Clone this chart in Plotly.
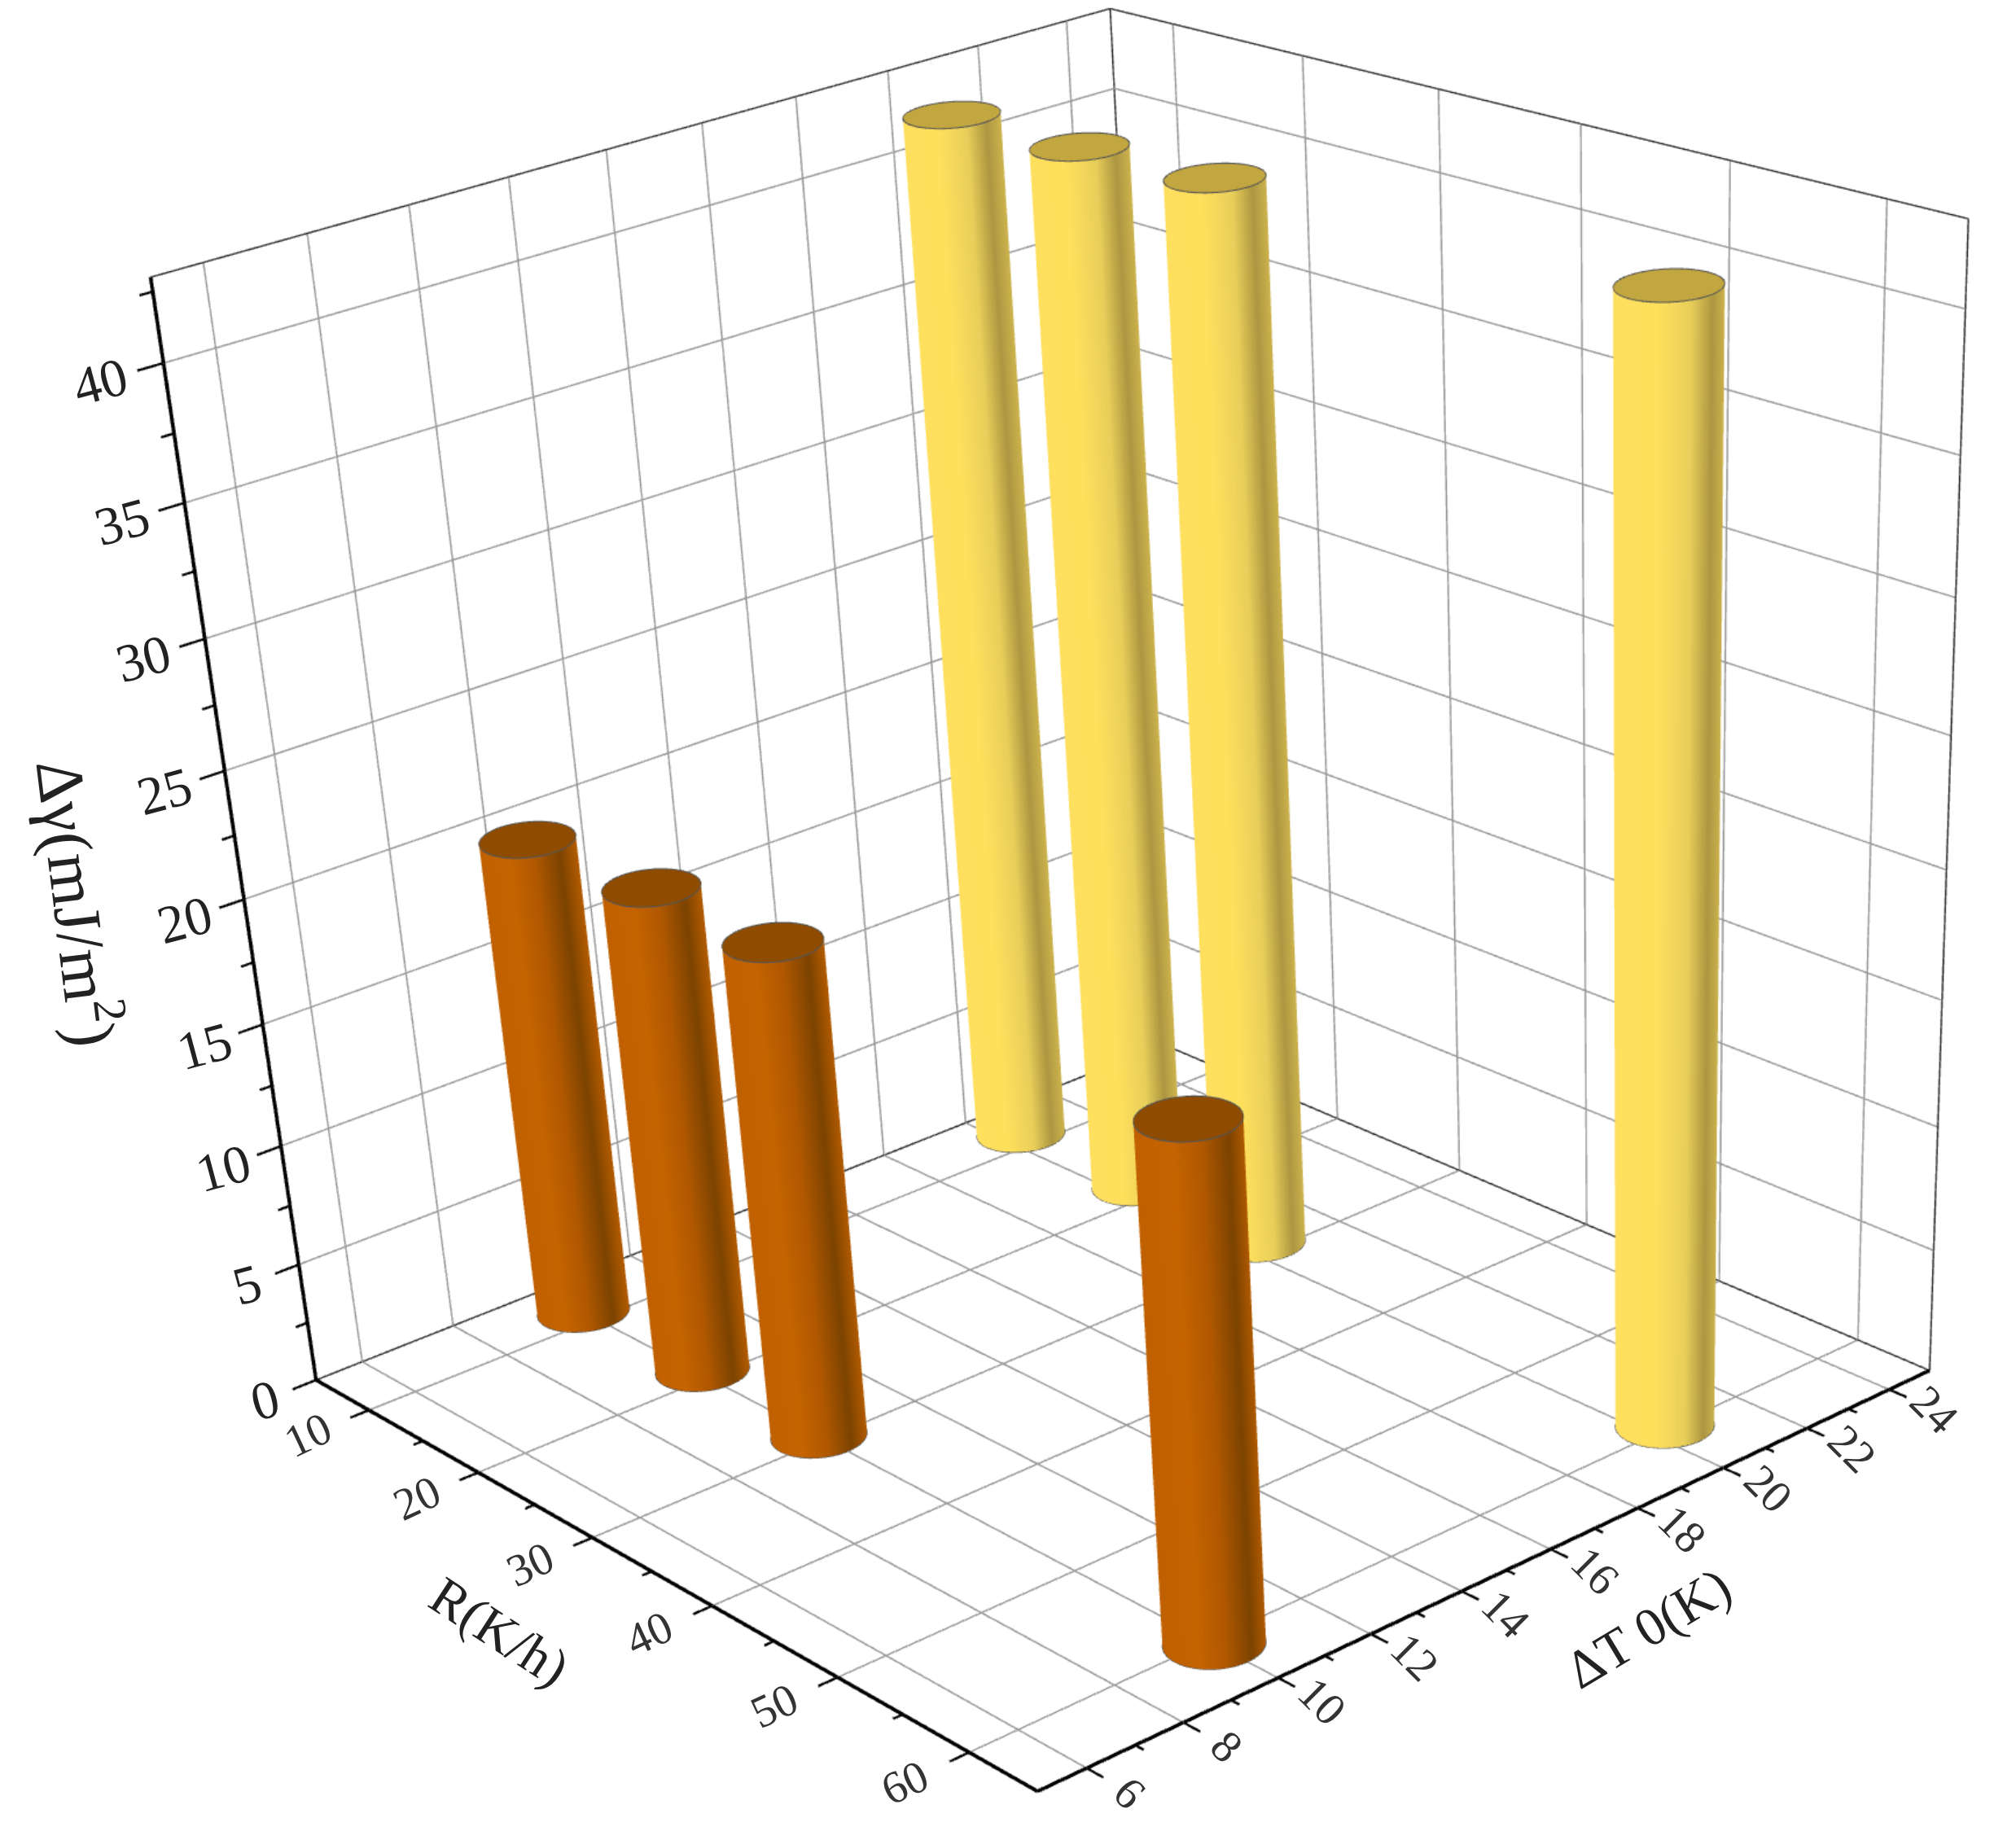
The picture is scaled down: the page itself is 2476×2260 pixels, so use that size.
import numpy as np
import plotly.graph_objects as go

R_ticks = [10, 20, 30, 40, 50, 60]
R_minor = [15, 25, 35, 45, 55]
T_ticks = [6, 8, 10, 12, 14, 16, 18, 20, 22, 24]
T_minor = [7, 9, 11, 13, 15, 17, 19, 21, 23]
G_ticks = [0, 5, 10, 15, 20, 25, 30, 35, 40]
G_minor = [2.5, 7.5, 12.5, 17.5, 22.5, 27.5, 32.5, 37.5, 42.5]

R_brown = [8.8, 19.1, 29.5, 60.4]
T_brown = [10.0, 10.1, 10.0, 10.0]
G_brown = [19.8, 19.9, 20.0, 20.2]
R_yellow = [8.5, 18.6, 28.8, 59.7]
T_yellow = [20.4, 20.4, 20.4, 20.4]
G_yellow = [41.6, 41.7, 41.9, 42.4]

x_range = [5, 65]
y_range = [5, 25]
z_range = [0, 43]

# plotly's view angle is fixed, so the canvas runs past the bottom of the window
# to get the flatter perspective of the original
Wp, Hp = 2480, 5800
eye = dict(x=3.4980, y=-2.7645, z=1.7365)
center = dict(x=0.2970, y=-0.4071, z=-1.1604)
up = dict(x=0.0453, y=0.0464, z=1)
asp = dict(x=1.0, y=0.9746, z=0.9465)

# scene box is larger than the drawn frame, same centre, so ticks and labels outside the frame are not clipped
half = dict(x=42, y=13.5, z=25)
scene_asp = dict(x=asp["x"] * half["x"] / 30, y=asp["y"] * half["y"] / 10, z=asp["z"] * half["z"] / 21.5)

radius = 0.041
thr = np.arctan2(eye["x"], -eye["y"])

brown_scale = [[0, "#C06000"], [0.35, "#C46300"], [0.6, "#B05800"], [0.85, "#7C4300"], [1, "#B05A00"]]
yellow_scale = [[0, "#FFDF5E"], [0.35, "#FFE05C"], [0.65, "#E8CE5A"], [0.85, "#AD9641"], [1, "#CDB44E"]]
flat = dict(ambient=1, diffuse=0, specular=0, fresnel=0, roughness=1)

fig = go.Figure()


def add_bars(rs, ts, gs, scale, cap):
    th = np.linspace(0, 2 * np.pi, 73)
    n = len(th)
    shade = (np.cos(th - thr) + 1) / 2
    sx, sy, sz, si, sj, sk, sv = [], [], [], [], [], [], []
    cx, cy, cz, ci, cj, ck = [], [], [], [], [], []
    lx, ly, lz = [], [], []
    for b, (r, t, g) in enumerate(zip(rs, ts, gs)):
        ex = r + radius * np.cos(th) * 60 / asp["x"]
        ey = t + radius * np.sin(th) * 20 / asp["y"]
        # side of the cylinder
        base = b * 2 * n
        sx += list(ex) + list(ex)
        sy += list(ey) + list(ey)
        sz += [0] * n + [g] * n
        sv += list(shade) + list(shade)
        for m in range(n - 1):
            si += [base + m, base + m]
            sj += [base + m + 1, base + n + m + 1]
            sk += [base + n + m + 1, base + n + m]
        # top cap
        base = b * (n + 1)
        cx += [r] + list(ex)
        cy += [t] + list(ey)
        cz += [g] * (n + 1)
        for m in range(1, n):
            ci.append(base)
            cj.append(base + m)
            ck.append(base + m + 1)
        for level in [0.02, g + 0.02]:
            lx += list(ex) + [None]
            ly += list(ey) + [None]
            lz += [level] * n + [None]
    fig.add_trace(go.Mesh3d(x=sx, y=sy, z=sz, i=si, j=sj, k=sk, intensity=sv, cmin=0, cmax=1, colorscale=scale,
                            showscale=False, hoverinfo="skip", lighting=flat))
    fig.add_trace(go.Mesh3d(x=cx, y=cy, z=cz, i=ci, j=cj, k=ck, color=cap, hoverinfo="skip", lighting=flat))
    fig.add_trace(go.Scatter3d(x=lx, y=ly, z=lz, mode="lines", line=dict(color="#555555", width=3),
                               hoverinfo="skip", showlegend=False))


add_bars(R_brown, T_brown, G_brown, brown_scale, "#8F4C00")
add_bars(R_yellow, T_yellow, G_yellow, yellow_scale, "#C2A640")


def add_segments(points, color, width):
    xs, ys, zs = [], [], []
    for a, b in points:
        xs += [a[0], b[0], None]
        ys += [a[1], b[1], None]
        zs += [a[2], b[2], None]
    fig.add_trace(go.Scatter3d(x=xs, y=ys, z=zs, mode="lines", line=dict(color=color, width=width),
                               hoverinfo="skip", showlegend=False))


x0, x1 = x_range
y0, y1 = y_range
z0, z1 = z_range

# grid on the floor and the two back walls
grid = []
for v in R_ticks:
    grid += [((v, y0, z0), (v, y1, z0)), ((v, y1, z0), (v, y1, z1))]
for v in T_ticks:
    grid += [((x0, v, z0), (x1, v, z0)), ((x0, v, z0), (x0, v, z1))]
for v in G_ticks[1:]:
    grid += [((x0, y0, v), (x0, y1, v)), ((x0, y1, v), (x1, y1, v))]
add_segments(grid, "#999999", 4)

add_segments([((x0, y0, z1), (x0, y1, z1)), ((x0, y1, z1), (x1, y1, z1)), ((x0, y1, z0), (x0, y1, z1)),
              ((x0, y0, z0), (x0, y1, z0)), ((x0, y1, z0), (x1, y1, z0)), ((x1, y1, z0), (x1, y1, z1))], "#333333", 4)
add_segments([((x0, y0, z0), (x1, y0, z0)), ((x1, y0, z0), (x1, y1, z0)), ((x0, y0, z0), (x0, y0, z1))], "black", 9)

major = ([((v, y0, z0), (v, y0 - 0.4, z0)) for v in R_ticks] +
         [((x1, v, z0), (x1 + 1.2, v, z0)) for v in T_ticks] +
         [((x0, y0, v), (x0, y0 - 0.5, v)) for v in G_ticks])
minor = ([((v, y0, z0), (v, y0 - 0.2, z0)) for v in R_minor] +
         [((x1, v, z0), (x1 + 0.6, v, z0)) for v in T_minor] +
         [((x0, y0, v), (x0, y0 - 0.25, v)) for v in G_minor])
add_segments(major + minor, "black", 6)

font = "Liberation Serif"
scene_notes = []
for v in R_ticks:
    scene_notes.append(dict(x=v, y=y0 - 1.3, z=z0, text=str(v), textangle=-25, showarrow=False,
                            font=dict(family=font, size=56, color="#333333")))
for v in T_ticks:
    scene_notes.append(dict(x=x1 + 3.1, y=v, z=z0, text=str(v), textangle=45, showarrow=False,
                            font=dict(family=font, size=56, color="#333333")))
for v in G_ticks:
    scene_notes.append(dict(x=x0, y=y0 - (1.2 if v >= 10 else 1.1), z=v, text=str(v), textangle=-15, showarrow=False,
                            font=dict(family=font, size=66, color="#222222")))

notes = [("R(K/h)", 613, 2004, 33, 66), ("\u0394T 0(K)", 2024, 2000, -31, 66),
         ("\u0394\u03b3(mJ/m<sup>2</sup>)", 100, 1108, 83, 82)]
anns = [dict(text=t, x=px / Wp, y=1 - py / Hp, xref="paper", yref="paper", showarrow=False, textangle=a,
             xanchor="center", yanchor="middle", font=dict(family=font, size=s, color="#222222"))
        for t, px, py, a, s in notes]

hidden = dict(visible=False)
fig.update_layout(width=Wp, height=Hp, margin=dict(l=0, r=0, t=0, b=0), paper_bgcolor="white", showlegend=False,
                  annotations=anns,
                  scene=dict(xaxis=dict(range=[35 - half["x"], 35 + half["x"]], **hidden),
                             yaxis=dict(range=[15 - half["y"], 15 + half["y"]], **hidden),
                             zaxis=dict(range=[21.5 - half["z"], 21.5 + half["z"]], **hidden),
                             hovermode=False, annotations=scene_notes,
                             aspectmode="manual", aspectratio=scene_asp,
                             camera=dict(eye=eye, center=center, up=up)))
fig.write_html("out.html", config=dict(displayModeBar=False, plotGlPixelRatio=0.7),
               post_script="document.body.style.margin='0';document.documentElement.style.overflow='hidden';")
